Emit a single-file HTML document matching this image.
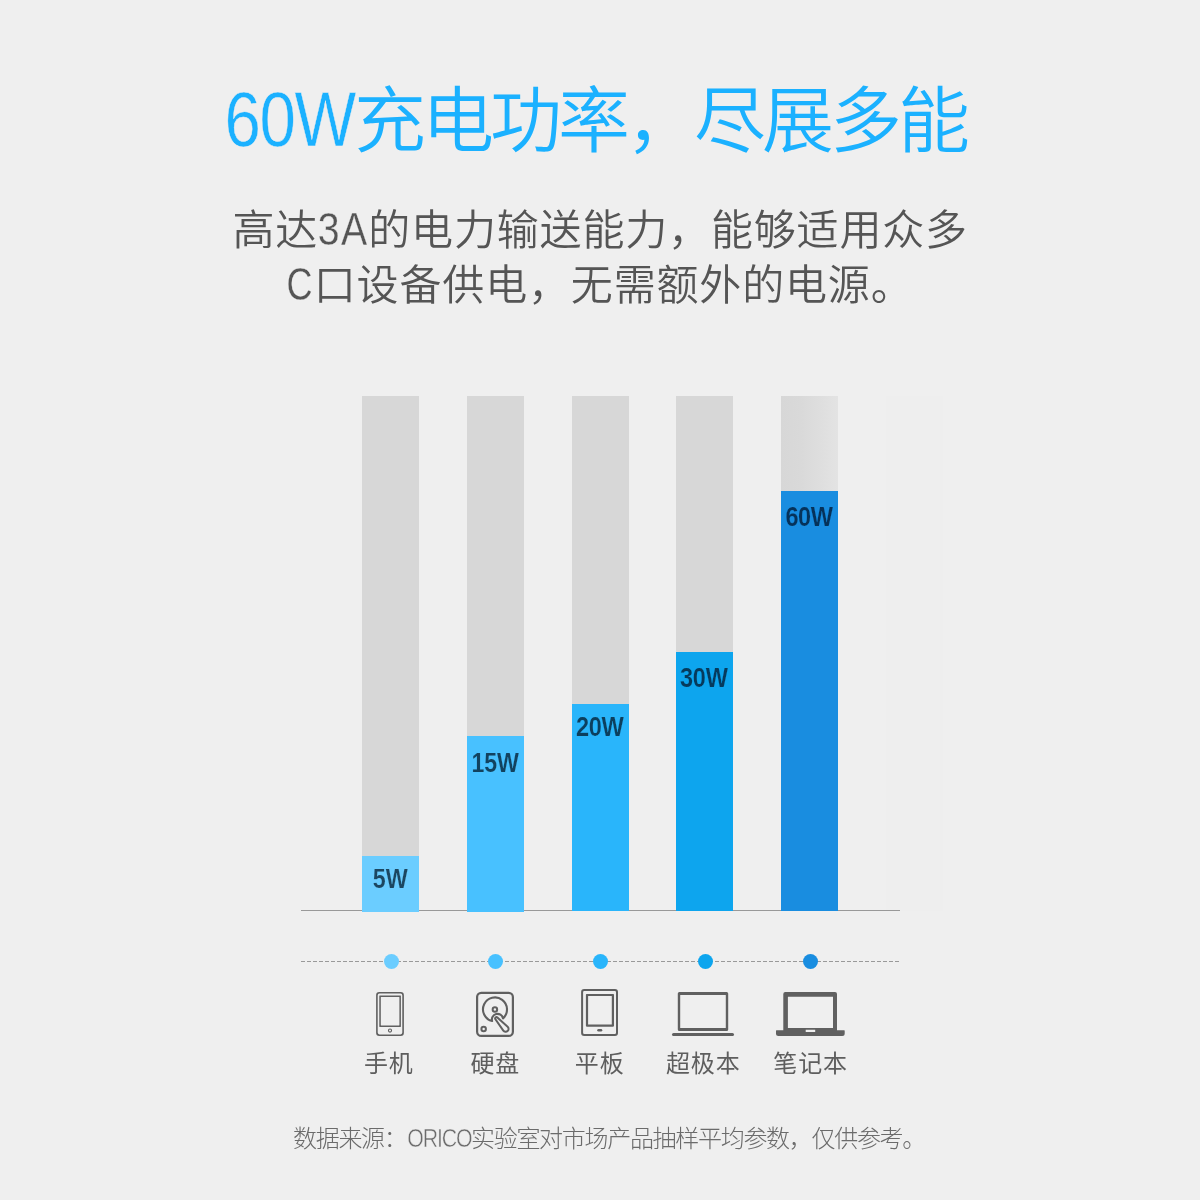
<!DOCTYPE html>
<html lang="zh-CN">
<head>
<meta charset="utf-8">
<title>60W充电功率，尽展多能</title>
<style>
html,body{margin:0;padding:0;background:#efefef;}
body{width:1200px;height:1200px;overflow:hidden;position:relative;
  font-family:"Liberation Sans","Noto Sans CJK SC",sans-serif;font-weight:350;}
.abs{position:absolute;white-space:nowrap;}
.lat{display:inline-block;line-height:0;letter-spacing:0;transform-origin:0 0;text-align:left;}

/* heading */
#title{left:224.2px;top:70.75px;line-height:100px;font-size:72px;letter-spacing:-4px;color:#1bb1ff;margin:0;font-weight:350;}
#title .lat{-webkit-text-stroke:.5px #efefef;}
#sub{left:0;top:0;margin:0;font-size:42px;line-height:55px;letter-spacing:.84px;color:#555;}
#sub span.ln{position:absolute;white-space:nowrap;}
#sub .lat{-webkit-text-stroke:.3px #efefef;}

/* chart */
.track{position:absolute;top:396px;width:57px;height:515px;background:#d7d7d7;}
.fill{position:absolute;left:0;bottom:0;width:57px;}
.val{position:absolute;white-space:nowrap;font-weight:700;font-size:25px;line-height:30px;letter-spacing:-1.25px;}
#axis{position:absolute;left:301px;top:910px;width:599px;height:1px;background:#999;}
#panel{position:absolute;left:886px;top:396px;width:57px;height:515px;background:#eee;}

/* legend */
#dash{position:absolute;left:301px;top:961px;width:598px;height:1px;
  background:repeating-linear-gradient(90deg,#999 0 4px,transparent 4px 6px);}
.dot{position:absolute;top:954px;width:15px;height:15px;border-radius:50%;}
#icons{position:absolute;left:0;top:0;}
.lab{position:absolute;top:1045.68px;font-size:24px;line-height:36px;letter-spacing:.9px;color:#5e5e5e;font-weight:400;white-space:nowrap;}
#note{left:293px;top:1120.68px;font-size:24px;line-height:36px;letter-spacing:-1.3px;color:#6b6b6b;font-weight:300;margin:0;}
#note .lat{-webkit-text-stroke:.5px #efefef;}
</style>
</head>
<body>

<h1 id="title" class="abs"><span class="lat" style="width:129.84px;font-size:77.33px;letter-spacing:-1.75px;transform-origin:0 26.8px;transform:translate(0.57px,0.43px) scale(0.846,1.006)">60W</span>充电功率，尽展多能</h1>

<p id="sub" class="abs"><span class="ln" style="left:232.5px;top:202.95px">高达<span class="lat" style="width:50.02px;font-size:45.12px;letter-spacing:1.73px;transform-origin:0 15.63px;transform:translate(-0.37px,0.25px) scale(0.87,1.006)">3A</span>的电力输送能力，能够适用众多</span><span class="ln" style="left:286.3px;top:257.95px"><span class="lat" style="width:27.47px;font-size:45.12px;transform-origin:0 15.63px;transform:translate(0.53px,0.25px) scale(0.799,1.006)">C</span>口设备供电，无需额外的电源。</span></p>

<div id="panel"></div>

<div id="axis"></div>

<div class="track" style="left:362px"><div class="fill" style="top:460px;bottom:-1px;background:#6bcdff"></div><div class="val" style="left:10.79px;top:467.84px;color:#1c4660;-webkit-text-stroke:.2px #6bcdff"><span class="lat" style="width:34.1px;font-size:26.89px;letter-spacing:0.05px;transform-origin:0 9.32px;transform:translate(-0.13px,0.19px) scale(0.866,1.011)">5W</span></div></div>
<div class="track" style="left:467px"><div class="fill" style="top:340px;bottom:-1px;background:#48c1ff"></div><div class="val" style="left:3.56px;top:352.14px;color:#12425f;-webkit-text-stroke:.2px #48c1ff"><span class="lat" style="width:47.1px;font-size:26.89px;letter-spacing:-0.19px;transform-origin:0 9.32px;transform:translate(0.58px,0.19px) scale(0.861,1.011)">15W</span></div></div>
<div class="track" style="left:572px"><div class="fill" style="top:308px;bottom:0px;background:#29b5fb"></div><div class="val" style="left:4.15px;top:315.94px;color:#0c3f5e;-webkit-text-stroke:.2px #29b5fb"><span class="lat" style="width:47.1px;font-size:26.89px;letter-spacing:-0.42px;transform-origin:0 9.32px;transform:translate(0.04px,0.19px) scale(0.878,1.014)">20W</span></div></div>
<div class="track" style="left:676px"><div class="fill" style="top:256px;bottom:0px;background:#0da5ee"></div><div class="val" style="left:4.28px;top:266.54px;color:#063a5c;-webkit-text-stroke:.2px #0da5ee"><span class="lat" style="width:47.1px;font-size:26.89px;letter-spacing:-0.3px;transform-origin:0 9.32px;transform:translate(0.07px,0.15px) scale(0.874,1.012)">30W</span></div></div>
<div class="track" style="left:781px;background:linear-gradient(90deg,#d7d7d7 0%,#d9d9d9 35%,#e3e3e3 100%)"><div class="fill" style="top:95px;bottom:0px;background:#198de0"></div><div class="val" style="left:3.96px;top:105.94px;color:#06325a;-webkit-text-stroke:.2px #198de0"><span class="lat" style="width:47.1px;font-size:26.89px;letter-spacing:-0.52px;transform-origin:0 9.32px;transform:translate(0.38px,0.19px) scale(0.875,1.014)">60W</span></div></div>

<div id="dash"></div>

<div class="dot" style="left:383.8px;background:#6bcdff"></div>
<div class="dot" style="left:487.9px;background:#48c1ff"></div>
<div class="dot" style="left:592.9px;background:#29b5fb"></div>
<div class="dot" style="left:697.8px;background:#0da5ee"></div>
<div class="dot" style="left:802.8px;background:#198de0"></div>

<svg id="icons" width="1200" height="1200" viewBox="0 0 1200 1200" fill="#606060" aria-hidden="true">
<g><path fill-rule="evenodd" d="M379.3 992H400.7A3.2 3.2 0 0 1 403.9 995.2V1032.8A3.2 3.2 0 0 1 400.7 1036H379.3A3.2 3.2 0 0 1 376.1 1032.8V995.2A3.2 3.2 0 0 1 379.3 992ZM379.5 993.6H400.5A1.8 1.8 0 0 1 402.3 995.4V1032.6A1.8 1.8 0 0 1 400.5 1034.4H379.5A1.8 1.8 0 0 1 377.7 1032.6V995.4A1.8 1.8 0 0 1 379.5 993.6Z"/><path fill-rule="evenodd" d="M379.7 995.4H400.5A0.4 0.4 0 0 1 400.9 995.8V1026.5A0.4 0.4 0 0 1 400.5 1026.9H379.7A0.4 0.4 0 0 1 379.3 1026.5V995.8A0.4 0.4 0 0 1 379.7 995.4ZM381.1 996.9H399.1A0.3 0.3 0 0 1 399.4 997.2V1025.1A0.3 0.3 0 0 1 399.1 1025.4H381.1A0.3 0.3 0 0 1 380.8 1025.1V997.2A0.3 0.3 0 0 1 381.1 996.9Z"/><circle cx="390" cy="1030.6" r="1.55" fill="none" stroke="#606060" stroke-width="1.1"/></g>
<g><rect x="477.1" y="992.85" width="35.8" height="43.05" rx="4.2" fill="none" stroke="#606060" stroke-width="2.2"/><path fill="none" stroke="#606060" stroke-width="2.1" stroke-linejoin="round" d="M492.12 1021.05A12 12 0 1 1 502.98 1018.36A5.6 5.6 0 1 0 492.12 1021.05Z"/><circle cx="494.9" cy="1009.5" r="2.25" fill="none" stroke="#606060" stroke-width="2"/><path fill="none" stroke="#606060" stroke-width="2" stroke-linejoin="round" d="M495.43 1019.24A1.3 1.3 0 0 1 497.37 1017.53L507.64 1026.74A2.9 2.9 0 1 1 503.32 1030.56Z"/><circle cx="483.65" cy="1029" r="2.25" fill="none" stroke="#606060" stroke-width="2"/></g>
<g><path fill-rule="evenodd" d="M584.1 988.9H615A3 3 0 0 1 618 991.9V1033A3 3 0 0 1 615 1036H584.1A3 3 0 0 1 581.1 1033V991.9A3 3 0 0 1 584.1 988.9ZM584.3 990.9H614.8A1.2 1.2 0 0 1 616 992.1V1032.8A1.2 1.2 0 0 1 614.8 1034H584.3A1.2 1.2 0 0 1 583.1 1032.8V992.1A1.2 1.2 0 0 1 584.3 990.9Z"/><path fill-rule="evenodd" d="M586.7 993.9H613.2A0.8 0.8 0 0 1 614 994.7V1025.85A0.8 0.8 0 0 1 613.2 1026.65H586.7A0.8 0.8 0 0 1 585.9 1025.85V994.7A0.8 0.8 0 0 1 586.7 993.9ZM588.3 996.1H611.6A0.2 0.2 0 0 1 611.8 996.3V1024.25A0.2 0.2 0 0 1 611.6 1024.45H588.3A0.2 0.2 0 0 1 588.1 1024.25V996.3A0.2 0.2 0 0 1 588.3 996.1Z"/><rect x="597.25" y="1029" width="5" height="2.5" rx="1.25"/></g>
<g><path fill-rule="evenodd" d="M679.4 991.9H726.6A1.6 1.6 0 0 1 728.2 993.5V1029.4A1.6 1.6 0 0 1 726.6 1031H679.4A1.6 1.6 0 0 1 677.8 1029.4V993.5A1.6 1.6 0 0 1 679.4 991.9ZM680.4 995H725.6A0.2 0.2 0 0 1 725.8 995.2V1027.7A0.2 0.2 0 0 1 725.6 1027.9H680.4A0.2 0.2 0 0 1 680.2 1027.7V995.2A0.2 0.2 0 0 1 680.4 995Z"/><rect x="672" y="1033" width="62" height="3" rx="1.5"/></g>
<g><path fill-rule="evenodd" d="M785.3 991.9H835A2 2 0 0 1 837 993.9V1030.3H844.2A.5 .5 0 0 1 844.7 1030.8V1033.4A2.5 2.5 0 0 1 842.2 1035.9H778.5A2.5 2.5 0 0 1 776 1033.4V1030.8A.5 .5 0 0 1 776.5 1030.3H783.3V993.9A2 2 0 0 1 785.3 991.9ZM787.9 996.8H833V1028H787.9ZM805.7 1029.7H815.2V1032H805.7Z"/></g>
</svg>

<div class="lab" style="left:363.91px">手机</div>
<div class="lab" style="left:470.48px">硬盘</div>
<div class="lab" style="left:574.82px">平板</div>
<div class="lab" style="left:665.88px">超极本</div>
<div class="lab" style="left:773.28px">笔记本</div>

<p id="note" class="abs">数据来源：<span class="lat" style="width:64.52px;font-size:26.26px;letter-spacing:-1.4px;transform-origin:0 9.1px;transform:translate(0.23px,0.31px) scale(0.812,1.001)">ORICO</span>实验室对市场产品抽样平均参数，仅供参考。</p>

</body>
</html>
